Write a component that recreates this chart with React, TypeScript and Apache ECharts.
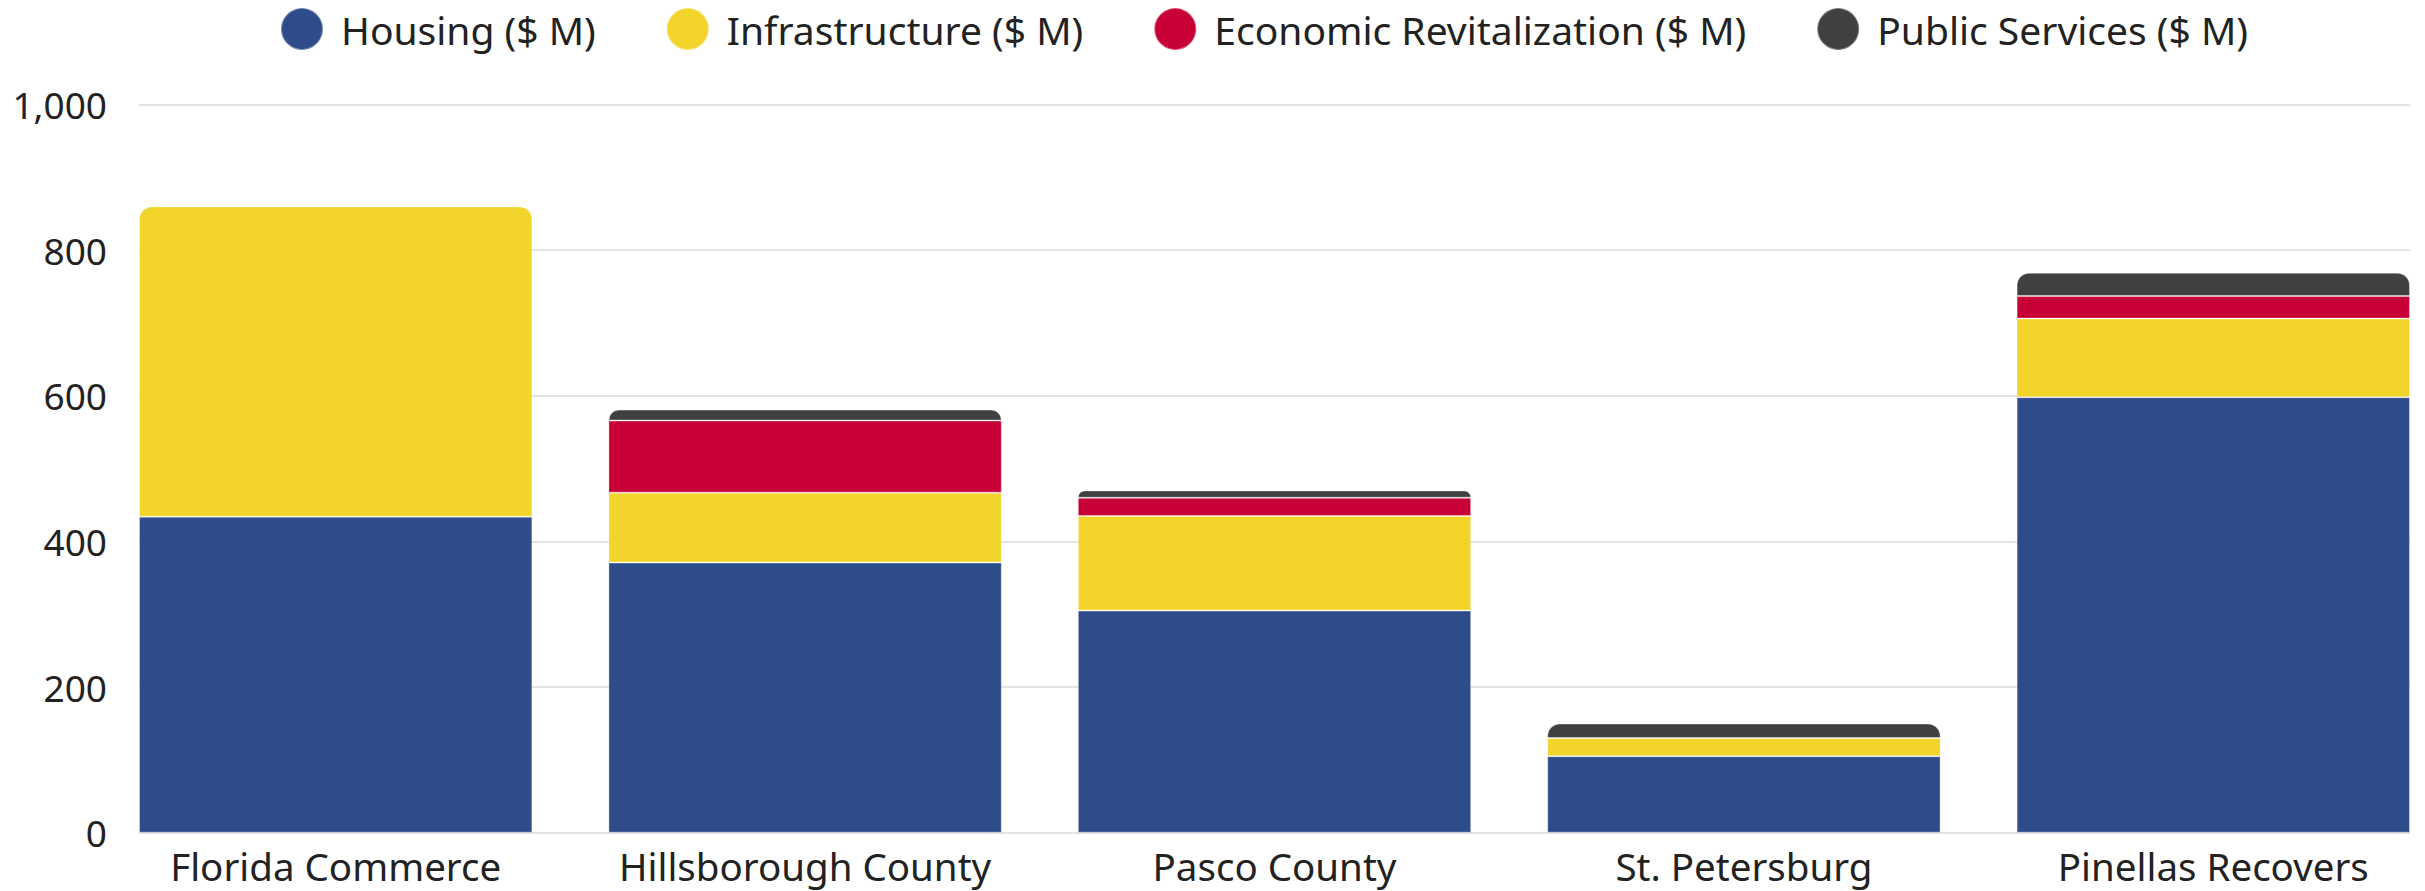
import React, { useEffect, useRef } from "react";
import * as echarts from "echarts";

const categories = ["Florida Commerce", "Hillsborough County", "Pasco County", "St. Petersburg", "Pinellas Recovers"];
const housing = [434, 371, 305, 105, 598];
const infrastructure = [426, 96, 130, 25, 108];
const economic = [0, 99, 25, 0, 31];
const publicServices = [0, 15, 10, 20, 32];
const seriesNames = ["Housing ($ M)", "Infrastructure ($ M)", "Economic Revitalization ($ M)", "Public Services ($ M)"];
const colors = ["#2E4C8A", "#F3D42B", "#C70036", "#404042"];
const yTicks = [0, 200, 400, 600, 800, 1000];

const FONT = "Noto Sans";
const CHART_W = 2460; // wider than the page so the bar grid can reach past the plot edge
const PAGE_W = 2425;
const PAGE_H = 891;

export default function App() {
  const ref = useRef<HTMLDivElement>(null);
  useEffect(() => {
    document.body.style.margin = "0";
    document.body.style.overflow = "hidden";
    const chart = echarts.init(ref.current!, null, { renderer: "svg" });
    const all = [housing, infrastructure, economic, publicServices];
    const topIndex = categories.map((_, ci) => {
      let t = 0;
      all.forEach((arr, si) => { if (arr[ci] > 0) t = si; });
      return t;
    });
    const series = all.map((arr, si) => ({
      name: seriesNames[si],
      type: "bar",
      stack: "total",
      xAxisIndex: 1,
      yAxisIndex: 1,
      barCategoryGap: "16.2%",
      itemStyle: { color: colors[si], borderColor: "rgba(255,255,255,0.35)", borderWidth: 1 },
      data: arr.map((v, ci) => ({
        value: v,
        itemStyle: topIndex[ci] === si ? { borderRadius: [12, 12, 0, 0] } : { borderRadius: 0 },
      })),
    }));
    chart.setOption({
      animation: false,
      color: colors,
      legend: {
        data: seriesNames,
        icon: "circle",
        left: 275,
        top: 2,
        itemWidth: 68,
        itemHeight: 42,
        itemGap: 70,
        textStyle: { fontFamily: FONT, fontSize: 39, color: "#222" },
      },
      grid: [
        { left: 139, width: 2271, top: 104.5, bottom: 58.3 },
        { left: 101, width: 2347, top: 104.5, bottom: 58.3 },
      ],
      xAxis: [
        { type: "value", gridIndex: 0, show: false, min: 0, max: 1 },
        {
          type: "category",
          gridIndex: 1,
          data: categories,
          axisLine: { show: false },
          axisTick: { show: false },
          axisLabel: { fontFamily: FONT, fontSize: 38.5, lineHeight: 40, color: "#222", margin: 13, interval: 0 },
        },
      ],
      yAxis: [
        {
          type: "value",
          gridIndex: 0,
          min: yTicks[0],
          max: yTicks[yTicks.length - 1],
          interval: yTicks[1] - yTicks[0],
          axisLine: { show: false },
          axisTick: { show: false },
          axisLabel: {
            fontFamily: FONT,
            fontSize: 37,
            color: "#222",
            margin: 32,
            formatter: (v: number) => v.toLocaleString("en-US"),
          },
          splitLine: { lineStyle: { color: "#e3e3e3", width: 2 } },
        },
        { type: "value", gridIndex: 1, show: false, min: 0, max: 1000 },
      ],
      series,
    });
    return () => chart.dispose();
  }, []);
  return (
    <div style={{ width: PAGE_W, height: PAGE_H, overflow: "hidden", position: "relative" }}>
      <div ref={ref} style={{ width: CHART_W, height: PAGE_H }} />
    </div>
  );
}
